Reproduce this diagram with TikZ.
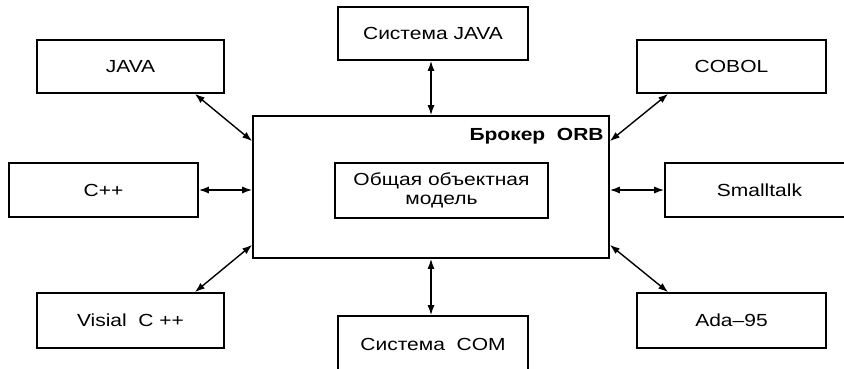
\documentclass[tikz,border=0pt]{standalone}
\usepackage{fontspec}
\setmainfont[FakeStretch=1.2]{Liberation Sans}
\usetikzlibrary{arrows.meta}
\begin{document}
\begin{tikzpicture}[x=1pt,y=-1pt,
  box/.style={draw,line width=1.6pt,inner sep=0pt,font=\fontsize{17.5}{20}\selectfont,align=center},
  arr/.style={line width=1.4pt,{Latex[length=10pt,width=7pt]}-{Latex[length=10pt,width=7pt]}}]
\useasboundingbox (0,0) rectangle (844,368);
\clip (0,0) rectangle (844,368);
\node[box,minimum width=187pt,minimum height=53pt] (java) at (130.5,66.5) {JAVA};
\node[box,minimum width=189pt,minimum height=54pt] (cpp) at (103.5,190) {C++};
\node[box,minimum width=187pt,minimum height=55pt] (vis) at (130.5,320.5) {Visial\ \ C ++};
\node[box,minimum width=356pt,minimum height=142pt] (orb) at (431,187) {};
\node[box,minimum width=190pt,minimum height=53pt] (sysjava) at (433,33.5) {Система JAVA};
\node[box,minimum width=190pt,minimum height=56pt] (com) at (433,344) {Система\ \ COM};
\node[box,minimum width=189pt,minimum height=53pt] (cobol) at (731.5,66.5) {COBOL};
\node[box,minimum width=189pt,minimum height=54pt] (st) at (759.5,190) {Smalltalk};
\node[box,minimum width=189pt,minimum height=55pt] (ada) at (731.5,320.5) {Ada--95};
\node[box,minimum width=213pt,minimum height=55pt,font=\fontsize{17.5}{19}\selectfont] (model) at (441.5,190.5) {Общая объектная\\модель};
\node[anchor=base east,inner sep=0pt,font=\fontsize{17.5}{20}\selectfont\bfseries] (orblabel) at ([xshift=-6pt,yshift=-25pt]orb.north east) {Брокер\ \ ORB};
\draw[arr] ([xshift=-30pt]java.south east) -- ([yshift=-26pt]orb.north west);
\draw[arr] (cpp.east) -- (cpp.east -| orb.west);
\draw[arr] ([xshift=-30pt]vis.north east) -- ([yshift=14pt]orb.south west);
\draw[arr] ([xshift=-2pt]sysjava.south) -- ([xshift=-2pt]sysjava.south |- orb.north);
\draw[arr] ([xshift=-2pt]com.north) -- ([xshift=-2pt]com.north |- orb.south);
\draw[arr] ([xshift=32pt]cobol.south west) -- ([yshift=-26pt]orb.north east);
\draw[arr] (st.west) -- (st.west -| orb.east);
\draw[arr] ([xshift=32pt]ada.north west) -- ([yshift=14pt]orb.south east);
\end{tikzpicture}
\end{document}
